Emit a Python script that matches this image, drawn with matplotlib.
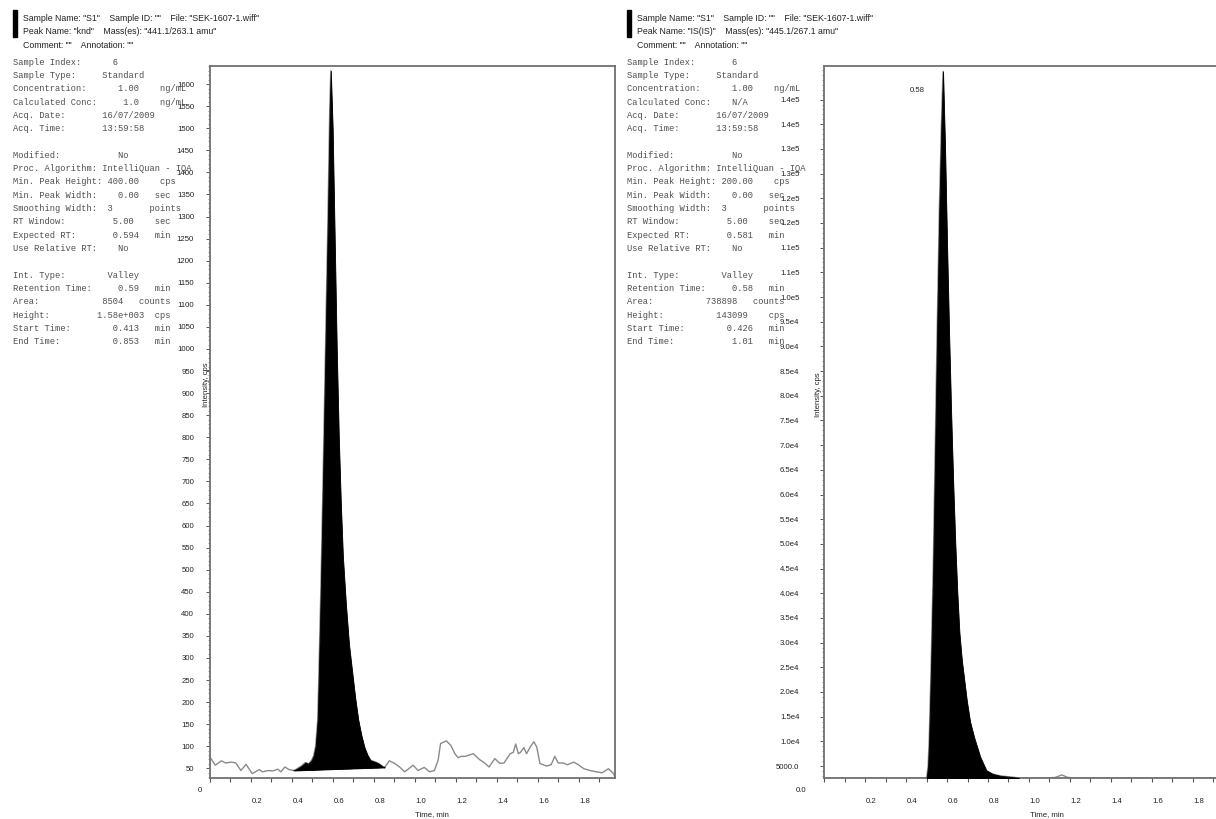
import numpy as np
import matplotlib
matplotlib.use("Agg")
import matplotlib.pyplot as plt
from matplotlib.patches import Rectangle
from matplotlib.ticker import FixedLocator, MultipleLocator, FixedFormatter
from matplotlib.transforms import ScaledTranslation, blended_transform_factory

# ---------------- data ----------------
# Left chromatogram (analyte "knd"), time in min, intensity in cps
left_t = [0.000, 0.026, 0.056, 0.076, 0.106, 0.126, 0.151, 0.176, 0.206, 0.241,
          0.256, 0.286, 0.306, 0.331, 0.346, 0.366, 0.386, 0.411, 0.446, 0.466,
          0.481, 0.496, 0.506, 0.516, 0.526, 0.531, 0.536, 0.541, 0.546, 0.556,
          0.566, 0.576, 0.585, 0.590, 0.599, 0.609, 0.619, 0.629, 0.639, 0.649,
          0.664, 0.679, 0.694, 0.709, 0.724, 0.739, 0.754, 0.769, 0.784, 0.809,
          0.826, 0.846, 0.853, 0.876, 0.902, 0.926, 0.951, 0.992, 1.016, 1.046,
          1.073, 1.096, 1.114, 1.126, 1.154, 1.176, 1.196, 1.212, 1.226, 1.246,
          1.286, 1.316, 1.341, 1.363, 1.391, 1.416, 1.436, 1.466, 1.481, 1.493,
          1.506, 1.516, 1.533, 1.546, 1.566, 1.582, 1.596, 1.611, 1.644, 1.666,
          1.684, 1.701, 1.726, 1.746, 1.776, 1.796, 1.826, 1.856, 1.886, 1.916,
          1.946, 1.971, 1.978]
left_v = [75, 57, 67, 62, 64, 62, 45, 59, 38, 47,
          42, 45, 44, 48, 42, 53, 47, 45, 55, 63,
          60, 68, 78, 100, 160, 250, 350, 450, 560, 800,
          1050, 1300, 1550, 1630, 1500, 1250, 1000, 800, 650, 530,
          420, 330, 270, 210, 160, 125, 98, 80, 68, 64,
          60, 53, 52, 67, 61, 53, 42, 57, 45, 52,
          42, 45, 68, 106, 112, 102, 83, 74, 77, 77,
          83, 70, 62, 53, 72, 61, 62, 83, 86, 105,
          83, 86, 97, 83, 100, 110, 98, 61, 55, 58,
          77, 62, 62, 58, 64, 59, 49, 45, 42, 40,
          49, 38, 30]
left_peak_start = 0.411
left_peak_end = 0.853
left_yticks = [50, 100, 150, 200, 250, 300, 350, 400, 450, 500, 550, 600, 650, 700,
               750, 800, 850, 900, 950, 1000, 1050, 1100, 1150, 1200, 1250, 1300,
               1350, 1400, 1450, 1500, 1550, 1600]

# Right chromatogram (internal standard "IS(IS)")
right_t = [0.000, 0.400, 0.500, 0.507, 0.512, 0.517, 0.522, 0.532, 0.542, 0.552,
           0.562, 0.572, 0.580, 0.590, 0.600, 0.610, 0.620, 0.630, 0.640, 0.650,
           0.660, 0.672, 0.696, 0.712, 0.732, 0.762, 0.792, 0.822, 0.862, 0.908,
           0.950, 1.080, 1.130, 1.160, 1.190, 1.240, 1.980]
right_v = [2500, 2500, 2600, 5000, 10000, 18000, 26000, 45000, 70000, 95000,
           118000, 135000, 145700, 130000, 110000, 92000, 76000, 62000, 50000, 40000,
           32000, 26400, 18300, 14000, 10800, 6800, 4100, 3400, 3000, 2800,
           2600, 2550, 2700, 3200, 2700, 2550, 2500]
right_peak_start = 0.426
right_peak_end = 1.01
right_baseline = 2450
right_yticks = [5000, 10000, 15000, 20000, 25000, 30000, 35000, 40000, 45000, 50000,
                55000, 60000, 65000, 70000, 75000, 80000, 85000, 90000, 95000, 100000,
                105000, 110000, 115000, 120000, 125000, 130000, 135000, 140000]
right_ytick_labels = ["5000.0", "1.0e4", "1.5e4", "2.0e4", "2.5e4", "3.0e4", "3.5e4",
                      "4.0e4", "4.5e4", "5.0e4", "5.5e4", "6.0e4", "6.5e4", "7.0e4",
                      "7.5e4", "8.0e4", "8.5e4", "9.0e4", "9.5e4", "1.0e5", "1.1e5",
                      "1.1e5", "1.2e5", "1.2e5", "1.3e5", "1.3e5", "1.4e5", "1.4e5"]
right_apex_label = "0.58"

xtick_vals = [0.2, 0.4, 0.6, 0.8, 1.0, 1.2, 1.4, 1.6, 1.8]
xtick_labels = ["0.2", "0.4", "0.6", "0.8", "1.0", "1.2", "1.4", "1.6", "1.8"]
left_zero_label = "0"
right_zero_label = "0.0"
xlabel_text = "Time, min"
ylabel_text = "Intensity, cps"

left_header = ['Sample Name: "S1"    Sample ID: ""    File: "SEK-1607-1.wiff"',
               'Peak Name: "knd"    Mass(es): "441.1/263.1 amu"',
               'Comment: ""    Annotation: ""']
right_header = ['Sample Name: "S1"    Sample ID: ""    File: "SEK-1607-1.wiff"',
                'Peak Name: "IS(IS)"    Mass(es): "445.1/267.1 amu"',
                'Comment: ""    Annotation: ""']

# (label, value, unit)
left_info = [("Sample Index:", "6", ""), ("Sample Type:", "Standard", ""),
             ("Concentration:", "1.00", "ng/mL"), ("Calculated Conc:", "1.0", "ng/mL"),
             ("Acq. Date:", "16/07/2009", ""), ("Acq. Time:", "13:59:58", ""),
             None,
             ("Modified:", "No", ""), ("Proc. Algorithm:", "IntelliQuan - IQA", ""),
             ("Min. Peak Height:", "400.00", "cps"), ("Min. Peak Width:", "0.00", "sec"),
             ("Smoothing Width:", "3", "points"), ("RT Window:", "5.00", "sec"),
             ("Expected RT:", "0.594", "min"), ("Use Relative RT:", "No", ""),
             None,
             ("Int. Type:", "Valley", ""), ("Retention Time:", "0.59", "min"),
             ("Area:", "8504", "counts"), ("Height:", "1.58e+003", "cps"),
             ("Start Time:", "0.413", "min"), ("End Time:", "0.853", "min")]
right_info = [("Sample Index:", "6", ""), ("Sample Type:", "Standard", ""),
              ("Concentration:", "1.00", "ng/mL"), ("Calculated Conc:", "N/A", ""),
              ("Acq. Date:", "16/07/2009", ""), ("Acq. Time:", "13:59:58", ""),
              None,
              ("Modified:", "No", ""), ("Proc. Algorithm:", "IntelliQuan - IQA", ""),
              ("Min. Peak Height:", "200.00", "cps"), ("Min. Peak Width:", "0.00", "sec"),
              ("Smoothing Width:", "3", "points"), ("RT Window:", "5.00", "sec"),
              ("Expected RT:", "0.581", "min"), ("Use Relative RT:", "No", ""),
              None,
              ("Int. Type:", "Valley", ""), ("Retention Time:", "0.58", "min"),
              ("Area:", "738898", "counts"), ("Height:", "143099", "cps"),
              ("Start Time:", "0.426", "min"), ("End Time:", "1.01", "min")]

# ---------------- layout (character columns / pixels) ----------------
left_cols = [(19, 0), (17, 0), (20, 28), (21, 28), (17, 0), (17, 0), None,
             (20, 0), (17, 0), (18, 28), (20, 27), (18, 26), (19, 27), (19, 27),
             (20, 0), None, (18, 0), (20, 27), (17, 24), (16, 27), (19, 27), (19, 27)]
right_cols = [(20, 0), (17, 0), (20, 28), (20, 0), (17, 0), (17, 0), None,
              (20, 0), (17, 0), (18, 28), (20, 27), (18, 26), (19, 27), (19, 27),
              (20, 0), None, (18, 0), (20, 27), (15, 24), (17, 27), (19, 27), (20, 27)]

W, H = 1216, 819
def fx(x):
    return x / W
def fy(y):
    return 1 - y / H

fig = plt.figure(figsize=(W / 100, H / 100), dpi=100)
fig.patch.set_facecolor("white")

SANS = ["Liberation Sans", "DejaVu Sans"]
MONO = ["Liberation Mono", "DejaVu Sans Mono"]
TXT = "#222222"
INFO_C = "#505050"
SPINE_C = "#707070"
TICK_FS = 5.6


def build_line(row, cols):
    label, value, unit = row
    vcol, ucol = cols
    s = label.ljust(vcol) + value
    if unit:
        s = s.ljust(ucol) + unit
    return s


def draw_panel(header, info, cols, xoff):
    # black marker bar
    fig.patches.append(Rectangle((fx(12.7 + xoff), fy(37)), 4 / W, 27 / H,
                                 transform=fig.transFigure, color="black", zorder=5))
    for i, line in enumerate(header):
        fig.text(fx(23 + xoff), fy(18.5 + 13.5 * i), line, family=SANS, fontsize=6.3,
                 color=TXT, ha="left", va="center")
    for i, row in enumerate(info):
        if row is None:
            continue
        s = build_line(row, cols[i])
        fig.text(fx(12.7 + xoff), fy(62.3 + 13.3 * i), s, family=MONO, fontsize=6.3,
                 color=INFO_C, ha="left", va="center", zorder=6)


def style_axes(ax):
    for sp in ax.spines.values():
        sp.set_color(SPINE_C)
        sp.set_linewidth(1.3)
    ax.set_xlim(0, 1.978)
    ax.xaxis.set_major_locator(FixedLocator(xtick_vals))
    ax.xaxis.set_major_formatter(FixedFormatter(xtick_labels))
    ax.xaxis.set_minor_locator(MultipleLocator(0.1))
    ax.tick_params(axis="x", which="both", direction="out", length=3.2, width=0.8,
                   color="#555555", labelsize=TICK_FS, labelcolor=TXT, pad=11,
                   top=False)
    ax.tick_params(axis="y", which="major", direction="out", length=3.0, width=0.7,
                   color="#555555", labelsize=TICK_FS, labelcolor=TXT, right=False)
    ax.tick_params(axis="y", which="minor", direction="out", length=1.8, width=0.5,
                   color="#777777", right=False)
    for lab in ax.get_xticklabels() + ax.get_yticklabels():
        lab.set_family(SANS)
    off = ScaledTranslation(0.06, 0, fig.dpi_scale_trans)
    for lab in ax.get_xticklabels():
        lab.set_transform(lab.get_transform() + off)


# ---------------- left panel ----------------
draw_panel(left_header, left_info, left_cols, 0)
axL = fig.add_axes([fx(210), fy(778), 405 / W, 712 / H])
style_axes(axL)
axL.set_ylim(28, 1641)
axL.yaxis.set_major_locator(FixedLocator(left_yticks))
axL.yaxis.set_minor_locator(MultipleLocator(10))
axL.tick_params(axis="y", which="major", pad=8.5)
for lab in axL.get_yticklabels():
    lab.set_family(SANS)

lt = np.array(left_t)
lv = np.array(left_v)
axL.plot(lt, lv, color="#8a8a8a", lw=1.0, zorder=2)
mL = (lt >= left_peak_start) & (lt <= left_peak_end)
baseL = np.interp(lt[mL], [lt[mL][0], lt[mL][-1]], [lv[mL][0], lv[mL][-1]])
axL.fill_between(lt[mL], lv[mL], baseL, color="black", lw=0.6, edgecolor="black", zorder=3)
axL.plot(lt[mL][[0, -1]], baseL[[0, -1]], color="black", lw=0.8, zorder=3)

trL = blended_transform_factory(fig.transFigure, axL.transData)
axL.text(fx(200), 0, left_zero_label, transform=trL, family=SANS, fontsize=TICK_FS,
         color=TXT, ha="center", va="center", clip_on=False)
fig.text(fx(432), fy(815), xlabel_text, family=SANS, fontsize=TICK_FS, color=TXT,
         ha="center", va="center")
fig.text(fx(206), fy(385), ylabel_text, family=SANS, fontsize=TICK_FS, color=TXT,
         ha="center", va="center", rotation=90)

# ---------------- right panel ----------------
draw_panel(right_header, right_info, right_cols, 614)
axR = fig.add_axes([fx(824.4), fy(778), 405 / W, 712 / H])
style_axes(axR)
axR.set_xlim(0, 1.98)
axR.set_ylim(2576, 146800)
axR.yaxis.set_major_locator(FixedLocator(right_yticks))
axR.yaxis.set_major_formatter(FixedFormatter(right_ytick_labels))
axR.yaxis.set_minor_locator(MultipleLocator(1000))
axR.tick_params(axis="y", which="major", pad=15)
for lab in axR.get_yticklabels():
    lab.set_family(SANS)

rt = np.array(right_t)
rv = np.array(right_v)
axR.plot(rt, rv, color="#8a8a8a", lw=1.0, zorder=2)
mR = (rt >= right_peak_start) & (rt <= right_peak_end)
axR.fill_between(rt[mR], rv[mR], right_baseline, color="black", lw=0.6,
                 edgecolor="black", zorder=3)
ia = int(np.argmax(rv))
axR.annotate(right_apex_label, xy=(rt[ia], rv[ia]), xytext=(-26 * 0.72, -19 * 0.72),
             textcoords="offset points", family=SANS, fontsize=TICK_FS, color=TXT,
             ha="center", va="center")

trR = blended_transform_factory(fig.transFigure, axR.transData)
axR.text(fx(801), 0, right_zero_label, transform=trR, family=SANS, fontsize=TICK_FS,
         color=TXT, ha="center", va="center", clip_on=False)
fig.text(fx(1047), fy(815), xlabel_text, family=SANS, fontsize=TICK_FS, color=TXT,
         ha="center", va="center")
fig.text(fx(819), fy(395), ylabel_text, family=SANS, fontsize=TICK_FS, color=TXT,
         ha="center", va="center", rotation=90)

fig.savefig("out.png", dpi=100)
